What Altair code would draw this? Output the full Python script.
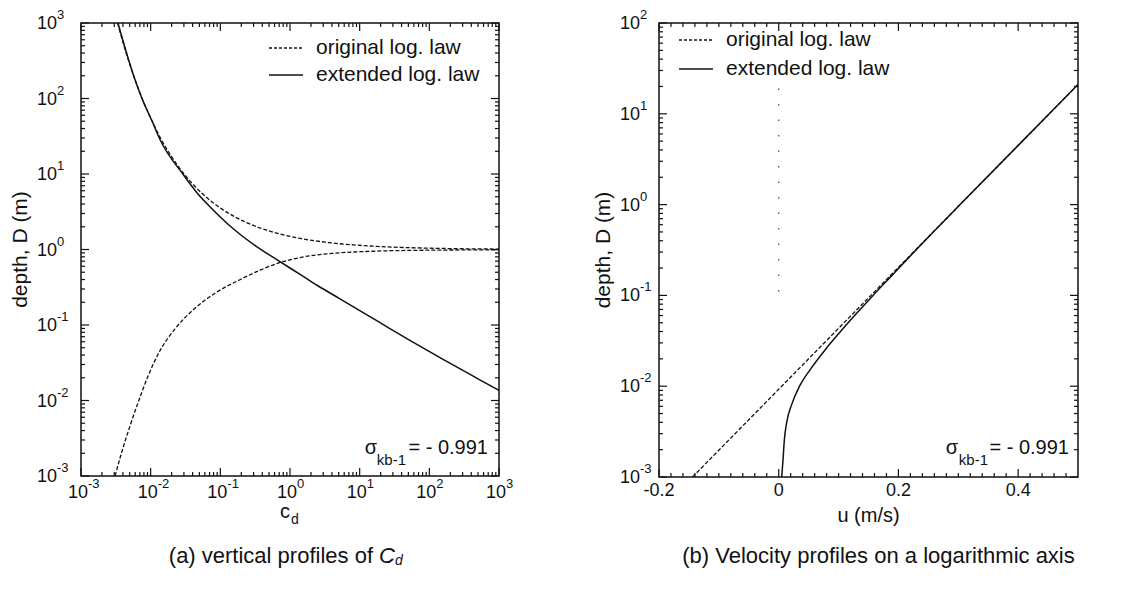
import altair as alt
import pandas as pd

FONT = "Liberation Sans"
INK = "#111111"

series_names = ["original log. law", "extended log. law"]
sigma_label = ["σ", "kb-1", "= - 0.991"]

# ---------------- panel (a): vertical profiles of Cd ----------------
a_orig_upper_cd = [0.00335, 0.00414, 0.0057, 0.00754, 0.0105, 0.0142, 0.0178, 0.0302, 0.0498,
                   0.0833, 0.133, 0.333, 0.724, 1.41, 3.21, 8.2, 17.6, 47, 104, 262, 1000]
a_orig_upper_D = [1000, 500, 200, 100, 50, 28.6, 20, 10, 6, 4, 3, 2, 1.6, 1.4, 1.25, 1.15,
                  1.1, 1.06, 1.04, 1.025, 1.0127]

a_orig_lower_cd = [0.00308, 0.0038, 0.0050, 0.00676, 0.00933, 0.0138, 0.0224, 0.0417, 0.0851,
                   0.191, 0.380, 0.708, 1.51, 4.17, 11.7, 53.7, 1000]
a_orig_lower_D = [0.001, 0.0020, 0.00447, 0.0100, 0.0219, 0.0468, 0.0891, 0.162, 0.266,
                  0.398, 0.537, 0.668, 0.794, 0.891, 0.940, 0.973, 0.991]

a_ext_cd = [0.00339, 0.0042, 0.0057, 0.0075, 0.0105, 0.0136, 0.0293, 0.0464, 0.0698, 0.158,
            0.324, 0.698, 1.51, 2.51, 5.14, 11.7, 26.4, 54.1, 150.7, 514, 1000]
a_ext_D = [1000, 500, 200, 100, 50, 28.6, 9.84, 5.62, 3.75, 1.84, 1.108, 0.702, 0.447, 0.331,
           0.224, 0.143, 0.0912, 0.0617, 0.0359, 0.0191, 0.0136]

a_exps = [-3, -2, -1, 0, 1, 2, 3]

# ---------------- panel (b): velocity profiles ----------------
b_orig_u = [-0.144, 0.005, 0.154, 0.303, 0.452, 0.500]
b_orig_D = [0.001, 0.01, 0.1, 1, 10, 21.0]

b_ext_u = [0.005, 0.0073, 0.0093, 0.0133, 0.0218, 0.0348, 0.0543, 0.0774, 0.1029, 0.1298,
           0.1576, 0.186, 0.2148, 0.2586, 0.303, 0.452, 0.500]
b_ext_D = [0.001, 0.00158, 0.00251, 0.00398, 0.00631, 0.01, 0.0158, 0.0251, 0.0398, 0.0631,
           0.1, 0.158, 0.251, 0.501, 1.0, 10, 21.0]

b_zero_u = [0, 0]
b_zero_D = [19, 0.08]

b_y_exps = [-3, -2, -1, 0, 1, 2]
b_x_major = [-0.2, 0.0, 0.2, 0.4]
b_x_labels = ["-0.2", "0", "0.2", "0.4"]

W_A, H_A = 418, 453
W_B, H_B = 419, 454

xa = alt.Scale(type="log", domain=[1e-3, 1e3], nice=False)
ya = alt.Scale(type="log", domain=[1e-3, 1e3], nice=False)
xb = alt.Scale(type="linear", domain=[-0.2, 0.5], nice=False, zero=False)
yb = alt.Scale(type="log", domain=[1e-3, 1e2], nice=False)


def log_minor(lo, hi):
    return [m * 10.0 ** e for e in range(lo, hi) for m in range(2, 10)]


def curve(xv, yv, xs, ys, dashed, width):
    df = pd.DataFrame({"x": xv, "y": yv, "i": list(range(len(xv)))})
    kw = dict(color=INK, strokeWidth=width, clip=True, interpolate="monotone")
    if dashed:
        kw["strokeDash"] = [4, 2]
    return alt.Chart(df).mark_line(**kw).encode(
        x=alt.X("x:Q", scale=xs, axis=None),
        y=alt.Y("y:Q", scale=ys, axis=None),
        order="i:Q",
    )


def ticks(vals, scale, direction, W, H, length):
    df = pd.DataFrame({"v": vals})
    mk = dict(color=INK, strokeWidth=1.2)
    if direction == "x":
        enc = alt.X("v:Q", scale=scale, axis=None)
        return [
            alt.Chart(df).mark_rule(**mk).encode(x=enc, y=alt.value(H), y2=alt.value(H - length)),
            alt.Chart(df).mark_rule(**mk).encode(x=enc, y=alt.value(0), y2=alt.value(length)),
        ]
    enc = alt.Y("v:Q", scale=scale, axis=None)
    return [
        alt.Chart(df).mark_rule(**mk).encode(y=enc, x=alt.value(0), x2=alt.value(length)),
        alt.Chart(df).mark_rule(**mk).encode(y=enc, x=alt.value(W), x2=alt.value(W - length)),
    ]


def label(text, x, y, size, align="center", angle=0, style="normal"):
    kw = dict(align=align, baseline="middle", fontSize=size, font=FONT, color=INK, fontStyle=style)
    if angle:
        kw["angle"] = angle
    return alt.Chart(pd.DataFrame({"t": [text]})).mark_text(**kw).encode(
        text="t:N", x=alt.value(x), y=alt.value(y))


def log_xlabels(exps, xs, H):
    df = pd.DataFrame({"v": [10.0 ** e for e in exps], "b": ["10"] * len(exps),
                       "e": [str(e) for e in exps]})
    X = alt.X("v:Q", scale=xs, axis=None)
    base = alt.Chart(df).mark_text(align="right", baseline="middle", fontSize=18, font=FONT,
                                   color=INK, dx=7).encode(x=X, y=alt.value(H + 17), text="b:N")
    sup = alt.Chart(df).mark_text(align="left", baseline="middle", fontSize=13, font=FONT,
                                  color=INK, dx=7).encode(x=X, y=alt.value(H + 8), text="e:N")
    return [base, sup]


def log_ylabels(exps, ys, xr):
    df = pd.DataFrame({"v": [10.0 ** e for e in exps], "b": ["10"] * len(exps),
                       "e": [str(e) for e in exps]})
    Y = alt.Y("v:Q", scale=ys, axis=None)
    base = alt.Chart(df).mark_text(align="right", baseline="middle", fontSize=18, font=FONT,
                                   color=INK, dy=1).encode(y=Y, x=alt.value(xr), text="b:N")
    sup = alt.Chart(df).mark_text(align="left", baseline="middle", fontSize=13, font=FONT,
                                  color=INK, dy=-8).encode(y=Y, x=alt.value(xr), text="e:N")
    return [base, sup]


def legend(x0, x1, xt, y_rows):
    out = []
    for name, y, dashed in zip(series_names, y_rows, [True, False]):
        kw = dict(color=INK, strokeWidth=1.4)
        if dashed:
            kw["strokeDash"] = [3, 2]
        out.append(alt.Chart(pd.DataFrame({"s": [name]})).mark_rule(**kw).encode(
            x=alt.value(x0), x2=alt.value(x1), y=alt.value(y)))
        out.append(label(name, xt, y, 21, align="left"))
    return out


def sigma(W, H, right_end, sub_right, sig_right, y_main, y_sub):
    return [
        label(sigma_label[2], W - right_end, H - y_main, 20, align="right"),
        label(sigma_label[1], W - sub_right, H - y_sub, 15, align="right"),
        label(sigma_label[0], W - sig_right, H - y_main, 20, align="right"),
    ]


# ---------------- build panel (a) ----------------
layers_a = []
layers_a += ticks(log_minor(-3, 3), xa, "x", W_A, H_A, 4)
layers_a += ticks([10.0 ** e for e in a_exps], xa, "x", W_A, H_A, 8)
layers_a += ticks(log_minor(-3, 3), ya, "y", W_A, H_A, 4)
layers_a += ticks([10.0 ** e for e in a_exps], ya, "y", W_A, H_A, 8)
layers_a += [
    curve(a_orig_upper_cd, a_orig_upper_D, xa, ya, True, 1.3),
    curve(a_orig_lower_cd, a_orig_lower_D, xa, ya, True, 1.3),
    curve(a_ext_cd, a_ext_D, xa, ya, False, 1.5),
]
layers_a += log_xlabels(a_exps, xa, H_A)
layers_a += log_ylabels(a_exps, ya, -24)
layers_a += legend(188, 222, 235, [25, 52])
layers_a += sigma(W_A, H_A, 11, 93, 122, 28, 16)
layers_a += [
    label("depth, D (m)", -60, H_A / 2, 21, angle=270),
    label("c", W_A / 2 - 5, H_A + 36, 20),
    label("d", W_A / 2 + 1, H_A + 44, 14, align="left"),
    label("(a) vertical profiles of", 292, H_A + 80, 22, align="right"),
    label("C", 298, H_A + 80, 22, align="left", style="italic"),
    label("d", 314, H_A + 85, 14, align="left", style="italic"),
]
panel_a = alt.layer(*layers_a).properties(width=W_A, height=H_A)

# ---------------- build panel (b) ----------------
b_x_minor = [round(-0.2 + 0.02 * k, 2) for k in range(1, 35)]
b_x_minor = [v for v in b_x_minor if all(abs(v - m) > 1e-9 for m in b_x_major)]

layers_b = []
layers_b += ticks(b_x_minor, xb, "x", W_B, H_B, 4)
layers_b += ticks(b_x_major, xb, "x", W_B, H_B, 8)
layers_b += ticks(log_minor(-3, 2), yb, "y", W_B, H_B, 4)
layers_b += ticks([10.0 ** e for e in b_y_exps], yb, "y", W_B, H_B, 8)
zero_df = pd.DataFrame({"x": b_zero_u, "y": b_zero_D})
layers_b.append(alt.Chart(zero_df).mark_line(color="#444444", strokeWidth=1.2,
                                              strokeDash=[1.5, 14]).encode(
    x=alt.X("x:Q", scale=xb, axis=None), y=alt.Y("y:Q", scale=yb, axis=None)))
layers_b += [
    curve(b_orig_u, b_orig_D, xb, yb, True, 1.3),
    curve(b_ext_u, b_ext_D, xb, yb, False, 1.5),
]
lab_df = pd.DataFrame({"v": b_x_major, "t": b_x_labels})
layers_b.append(alt.Chart(lab_df).mark_text(align="center", baseline="middle", fontSize=18,
                                            font=FONT, color=INK).encode(
    x=alt.X("v:Q", scale=xb, axis=None), y=alt.value(H_B + 14), text="t:N"))
layers_b += log_ylabels(b_y_exps, yb, -19)
layers_b += legend(20, 54, 67, [17, 46])
layers_b += sigma(W_B, H_B, 9, 90, 120, 29, 17)
layers_b += [
    label("depth, D (m)", -55, H_B / 2, 21, angle=270),
    label("u (m/s)", W_B / 2, H_B + 39, 20),
    label("(b) Velocity profiles on a logarithmic axis", W_B / 2 + 10, H_B + 79, 22),
]
panel_b = alt.layer(*layers_b).properties(width=W_B, height=H_B)

chart = alt.hconcat(panel_a, panel_b, spacing=78).properties(
    padding={"left": 1, "top": 0, "right": 5, "bottom": 5}
).configure_view(stroke=INK, strokeWidth=1.5)

chart.save("out.html", embed_options={"renderer": "svg", "actions": False})
